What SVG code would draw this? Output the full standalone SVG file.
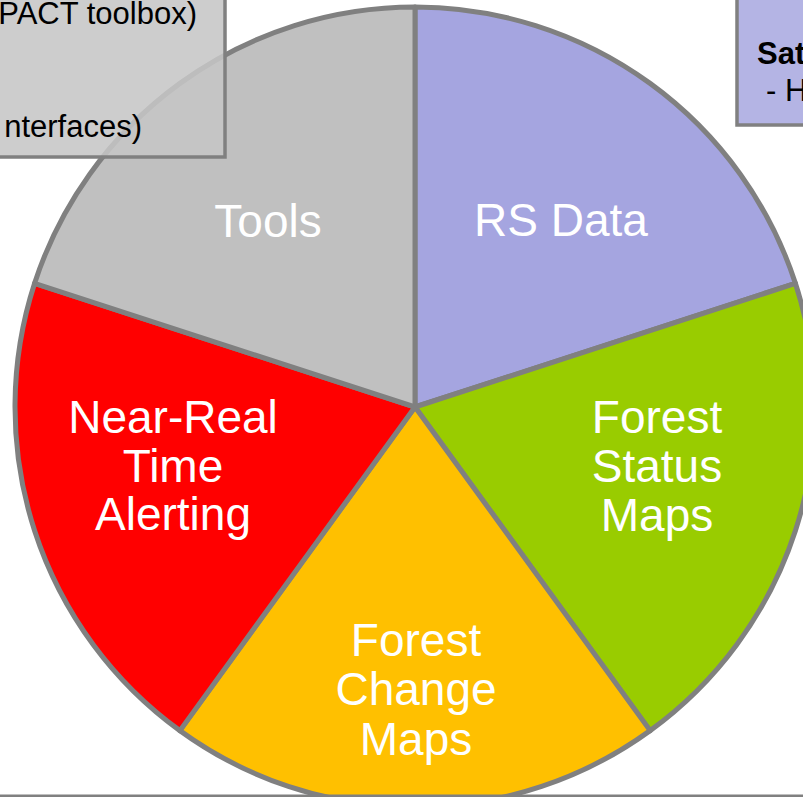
<svg xmlns="http://www.w3.org/2000/svg" width="803" height="797" viewBox="0 0 803 797">
  <style>
    .slice { stroke: #808080; stroke-width: 5; stroke-linejoin: round; }
    .lbl { font-family: "Liberation Sans", Arial, sans-serif; font-size: 46px; fill: #ffffff; text-anchor: middle; }
    .box { stroke: #808080; stroke-width: 3.5; }
    .btxt { font-family: "Liberation Sans", Arial, sans-serif; font-size: 31px; fill: #000000; }
  </style>
  <rect x="0" y="0" width="803" height="797" fill="#ffffff"/>
  <g id="rs-data">
    <path class="slice" fill="#a5a5e0" d="M415,407 L415,7 A400,400 0 0 1 795.42,283.39 Z"/>
    <text class="lbl" x="561" y="236">RS Data</text>
  </g>
  <g id="forest-status-maps">
    <path class="slice" fill="#99cc00" d="M415,407 L795.42,283.39 A400,400 0 0 1 650.11,730.61 Z"/>
    <text class="lbl" x="657" y="433">Forest</text>
    <text class="lbl" x="657" y="482">Status</text>
    <text class="lbl" x="657" y="531">Maps</text>
  </g>
  <g id="forest-change-maps">
    <path class="slice" fill="#ffc000" d="M415,407 L650.11,730.61 A400,400 0 0 1 179.89,730.61 Z"/>
    <text class="lbl" x="416" y="656">Forest</text>
    <text class="lbl" x="416" y="705">Change</text>
    <text class="lbl" x="416" y="755">Maps</text>
  </g>
  <g id="near-real-time-alerting">
    <path class="slice" fill="#ff0000" d="M415,407 L179.89,730.61 A400,400 0 0 1 34.58,283.39 Z"/>
    <text class="lbl" x="173" y="433">Near-Real</text>
    <text class="lbl" x="173" y="482">Time</text>
    <text class="lbl" x="173" y="530">Alerting</text>
  </g>
  <g id="tools">
    <path class="slice" fill="#c0c0c0" d="M415,407 L34.58,283.39 A400,400 0 0 1 415,7 Z"/>
    <text class="lbl" x="268" y="237">Tools</text>
  </g>
  <g id="tools-box">
    <rect class="box" x="-10" y="-10" width="235" height="167" fill="#c5c5c5" fill-opacity="0.87"/>
    <text class="btxt" x="197" y="24" text-anchor="end">PACT toolbox)</text>
    <text class="btxt" x="142" y="137" text-anchor="end">nterfaces)</text>
  </g>
  <g id="rs-data-box">
    <rect class="box" x="737" y="-10" width="80" height="135" fill="#b4b4e4"/>
    <text class="btxt" x="757" y="64" font-weight="bold">Sat</text>
    <text class="btxt" x="766" y="101">- H</text>
  </g>
  <rect id="bottom-rule" x="0" y="794.5" width="803" height="3" fill="#808080"/>
</svg>
